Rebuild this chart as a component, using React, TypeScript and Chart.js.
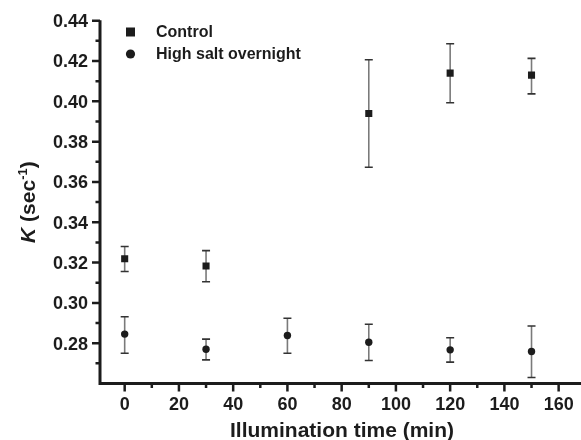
import React, { useEffect, useRef } from 'react';
import { Chart, registerables } from 'chart.js';

Chart.register(...registerables);

// ---- Data ----
const controlTimes = [0, 30, 90, 120, 150];
const controlK = [0.3219, 0.3183, 0.394, 0.414, 0.413];
const controlHi = [0.328, 0.3259, 0.4206, 0.4286, 0.4213];
const controlLo = [0.3156, 0.3105, 0.3673, 0.3993, 0.4037];

const saltTimes = [0, 30, 60, 90, 120, 150];
const saltK = [0.2845, 0.277, 0.2838, 0.2805, 0.2767, 0.2759];
const saltHi = [0.2931, 0.282, 0.2924, 0.2894, 0.2827, 0.2885];
const saltLo = [0.275, 0.2717, 0.275, 0.2714, 0.2706, 0.263];

const xMajorTicks = [0, 20, 40, 60, 80, 100, 120, 140, 160];
const xMinorTicks = [10, 30, 50, 70, 90, 110, 130, 150];
const yMajorTicks = [0.28, 0.3, 0.32, 0.34, 0.36, 0.38, 0.4, 0.42, 0.44];
const yMinorTicks = [0.27, 0.29, 0.31, 0.33, 0.35, 0.37, 0.39, 0.41, 0.43];

const seriesNames = ['Control', 'High salt overnight'];
const xTitle = 'Illumination time (min)';

const FONT = '"Liberation Sans", Arial, Helvetica, sans-serif';
const INK = '#1c1c1c';

const customPlugin = {
  id: 'customDecor',
  beforeDatasetsDraw(chart: any) {
    const ctx = chart.ctx;
    const xs = chart.scales.x;
    const ys = chart.scales.y;
    const groups = [
      { t: controlTimes, lo: controlLo, hi: controlHi },
      { t: saltTimes, lo: saltLo, hi: saltHi },
    ];
    ctx.save();
    groups.forEach((g) => {
      g.t.forEach((t, i) => {
        const x = xs.getPixelForValue(t);
        const yT = ys.getPixelForValue(g.hi[i]);
        const yB = ys.getPixelForValue(g.lo[i]);
        ctx.strokeStyle = '#7a7a7a';
        ctx.lineWidth = 1.6;
        ctx.beginPath();
        ctx.moveTo(x, yT);
        ctx.lineTo(x, yB);
        ctx.stroke();
        ctx.strokeStyle = '#333333';
        ctx.lineWidth = 1.6;
        ctx.beginPath();
        ctx.moveTo(x - 4, yT);
        ctx.lineTo(x + 4, yT);
        ctx.moveTo(x - 4, yB);
        ctx.lineTo(x + 4, yB);
        ctx.stroke();
      });
    });
    ctx.restore();
  },
  afterDraw(chart: any) {
    const ctx = chart.ctx;
    const xs = chart.scales.x;
    const ys = chart.scales.y;
    const area = chart.chartArea;
    const W = chart.width;
    ctx.save();
    ctx.strokeStyle = INK;
    ctx.fillStyle = INK;
    // axes lines
    ctx.lineWidth = 3;
    ctx.beginPath();
    ctx.moveTo(area.left, area.top - 0.5);
    ctx.lineTo(area.left, area.bottom);
    ctx.lineTo(W, area.bottom);
    ctx.stroke();
    // ticks
    ctx.lineWidth = 2.5;
    ctx.beginPath();
    yMajorTicks.forEach((v) => {
      const y = ys.getPixelForValue(v);
      ctx.moveTo(area.left - 8, y);
      ctx.lineTo(area.left, y);
    });
    yMinorTicks.forEach((v) => {
      const y = ys.getPixelForValue(v);
      ctx.moveTo(area.left - 4.5, y);
      ctx.lineTo(area.left, y);
    });
    xMajorTicks.forEach((v) => {
      const x = xs.getPixelForValue(v);
      ctx.moveTo(x, area.bottom);
      ctx.lineTo(x, area.bottom + 8);
    });
    xMinorTicks.forEach((v) => {
      const x = xs.getPixelForValue(v);
      ctx.moveTo(x, area.bottom);
      ctx.lineTo(x, area.bottom + 4.5);
    });
    ctx.stroke();

    // tick labels
    ctx.font = `bold 18px ${FONT}`;
    ctx.textAlign = 'right';
    ctx.textBaseline = 'alphabetic';
    yMajorTicks.forEach((v) => {
      const y = ys.getPixelForValue(v);
      ctx.fillText(v.toFixed(2), area.left - 12, y + 6.4);
    });
    ctx.textAlign = 'center';
    xMajorTicks.forEach((v) => {
      const x = xs.getPixelForValue(v);
      ctx.fillText(String(v), x, area.bottom + 26);
    });

    // x title
    ctx.font = `bold 21px ${FONT}`;
    ctx.textAlign = 'center';
    ctx.fillText(xTitle, (area.left + area.right) / 2 + 4, 437);

    // y title: K (sec^-1)
    const cy = (area.top + area.bottom) / 2;
    ctx.translate(34.5, cy);
    ctx.rotate(-Math.PI / 2);
    ctx.textAlign = 'left';
    const partK = 'K';
    const partA = ' (sec';
    const partSup = '-1';
    const partB = ')';
    ctx.font = `italic bold 21px ${FONT}`;
    const wK = ctx.measureText(partK).width;
    ctx.font = `bold 21px ${FONT}`;
    const wA = ctx.measureText(partA).width;
    const wB = ctx.measureText(partB).width;
    ctx.font = `bold 13px ${FONT}`;
    const wS = ctx.measureText(partSup).width;
    let x0 = -(wK + wA + wS + wB) / 2;
    ctx.font = `italic bold 21px ${FONT}`;
    ctx.fillText(partK, x0, 0);
    x0 += wK;
    ctx.font = `bold 21px ${FONT}`;
    ctx.fillText(partA, x0, 0);
    x0 += wA;
    ctx.font = `bold 13px ${FONT}`;
    ctx.fillText(partSup, x0, -8);
    x0 += wS;
    ctx.font = `bold 21px ${FONT}`;
    ctx.fillText(partB, x0, 0);
    ctx.setTransform(1, 0, 0, 1, 0, 0);

    // legend
    ctx.fillStyle = INK;
    ctx.fillRect(126, 27.5, 9, 9);
    ctx.beginPath();
    ctx.arc(130.5, 54, 4.6, 0, Math.PI * 2);
    ctx.fill();
    ctx.font = `bold 16px ${FONT}`;
    ctx.textAlign = 'left';
    ctx.textBaseline = 'middle';
    ctx.fillText(seriesNames[0], 156, 32.5);
    ctx.fillText(seriesNames[1], 156, 54.5);
    ctx.restore();
  },
};

export default function App() {
  const canvasRef = useRef<HTMLCanvasElement | null>(null);

  useEffect(() => {
    const canvas = canvasRef.current;
    if (!canvas) return;
    const chart = new Chart(canvas, {
      type: 'scatter',
      data: {
        datasets: [
          {
            label: seriesNames[0],
            data: controlTimes.map((t, i) => ({ x: t, y: controlK[i] })),
            pointStyle: 'rect',
            pointRadius: 5,
            backgroundColor: INK,
            borderColor: INK,
            borderWidth: 0,
          },
          {
            label: seriesNames[1],
            data: saltTimes.map((t, i) => ({ x: t, y: saltK[i] })),
            pointStyle: 'circle',
            pointRadius: 3.7,
            backgroundColor: INK,
            borderColor: INK,
            borderWidth: 0,
          },
        ],
      },
      options: {
        responsive: false,
        animation: false,
        devicePixelRatio: 1,
        layout: { padding: { left: 100, top: 20.7, right: 0, bottom: 56.5 } },
        plugins: { legend: { display: false }, tooltip: { enabled: false } },
        scales: {
          x: { type: 'linear', min: -9.1, max: 166.4, display: false },
          y: { type: 'linear', min: 0.26, max: 0.44, display: false },
        },
      },
      plugins: [customPlugin],
    });
    return () => chart.destroy();
  }, []);

  return (
    <div style={{ position: 'fixed', left: 0, top: 0, width: 581, height: 440, background: '#fff' }}>
      <canvas ref={canvasRef} width={581} height={440} />
    </div>
  );
}
